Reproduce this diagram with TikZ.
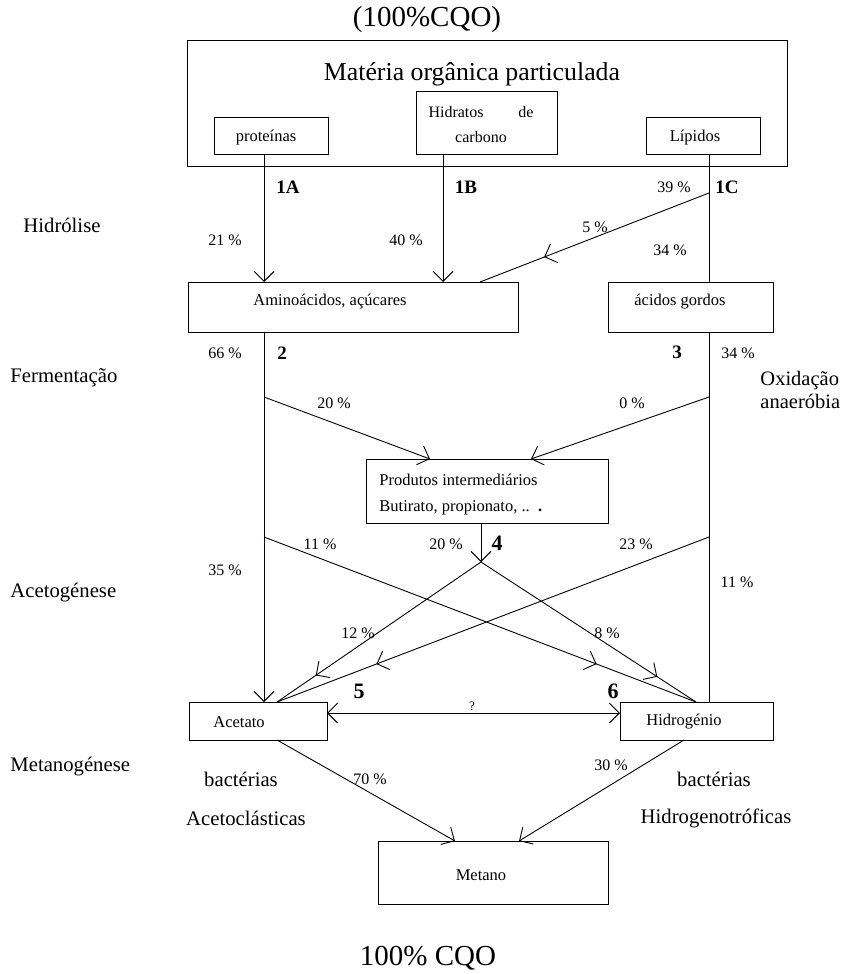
\documentclass[tikz,border=0pt]{standalone}
\usepackage{fontspec}
\setmainfont{Liberation Serif}
\usetikzlibrary{arrows.meta,decorations.markings,calc}
\newcommand{\fs}[1]{\fontsize{#1}{#1}\selectfont}
\begin{document}
\begin{tikzpicture}[x=1pt,y=-1pt,line width=0.9pt,
  box/.style={draw,rectangle,inner sep=0pt,outer sep=0pt},
  txt/.style={inner sep=0pt,font=\fs{16.5}},
  pct/.style={inner sep=0pt,font=\fs{16}},
  num/.style={inner sep=0pt,font=\fs{19}\bfseries},
  stage/.style={inner sep=0pt,font=\fs{20.7}},
  big/.style={inner sep=0pt,font=\fs{29}},
  tipa/.tip={Straight Barb[length=10pt,width=20pt]},
  ar/.style={-tipa},
  midar/.style={postaction={decorate},decoration={markings,mark=at position #1 with {\arrow{tipa}}}}
]
\useasboundingbox (0,0) rectangle (843,974);

% boxes
\node[box,minimum width=600pt,minimum height=126pt] (mop) at (487,103) {};
\node[box,minimum width=114pt,minimum height=37pt] (prot) at (271,135.5) {};
\node[box,minimum width=141pt,minimum height=63pt] (hid) at (486.5,122.5) {};
\node[box,minimum width=114pt,minimum height=37pt] (lip) at (703,135.5) {};
\node[box,minimum width=330pt,minimum height=50pt] (ami) at (353,307) {};
\node[box,minimum width=165pt,minimum height=50pt] (acg) at (690.5,307) {};
\node[box,minimum width=242pt,minimum height=64pt] (pro) at (487,491) {};
\node[box,minimum width=138pt,minimum height=38pt] (ace) at (258,721) {};
\node[box,minimum width=153pt,minimum height=38pt] (hyd) at (696.5,721) {};
\node[box,minimum width=230pt,minimum height=63pt] (met) at (493,872.5) {};

% box texts
\node[big] (t0) at (427,20) {(100\%CQO)};
\node[inner sep=0pt,font=\fs{25.8}] (mopT) at (472,74) {Matéria orgânica particulada};
\node[txt] (protT) at (266,138) {proteínas};
\node[txt,align=center,font=\fontsize{16}{25}\selectfont] (hidT) at (481,124.5) {\makebox[105pt]{Hidratos\hfill de}\\carbono};
\node[txt] (lipT) at (695,138) {Lípidos};
\node[txt] (amiT) at (330,302) {Aminoácidos, açúcares};
\node[txt] (acgT) at (680,302) {ácidos gordos};
\node[txt,anchor=west,align=left,font=\fontsize{16.5}{26}\selectfont] (proT) at (379,495) {Produtos intermediários\\Butirato, propionato, ..~~\textbf{.}};
\node[txt] (aceT) at (239,722) {Acetato};
\node[txt] (hydT) at (684,722) {Hidrogénio};
\node[txt] (metT) at (481,875) {Metano};
\node[big] (tEnd) at (428,958) {100\% CQO};

% stage labels
\node[stage,anchor=west] (s1) at (23,225) {Hidrólise};
\node[stage,anchor=west] (s2) at (10,378) {Fermentação};
\node[stage,anchor=west] (s3) at (10,593) {Acetogénese};
\node[stage,anchor=west] (s4) at (10,767) {Metanogénese};
\node[stage,anchor=west,align=left,font=\fontsize{20.5}{23.5}\selectfont] (s5) at (760,390) {Oxidação\\anaeróbia};
\node[stage] (b1) at (241,779) {bactérias};
\node[stage] (b2) at (246,818) {Acetoclásticas};
\node[stage] (b3) at (714,779) {bactérias};
\node[stage] (b4) at (716,818) {Hidrogenotróficas};

% numbers
\node[num] (n1A) at (288,187) {1A};
\node[num] (n1B) at (466,187) {1B};
\node[num] (n1C) at (727,187) {1C};
\node[num] (n2) at (282,353) {2};
\node[num] (n3) at (677,352) {3};
\node[num,font=\fs{22}\bfseries] (n4) at (497,543) {4};
\node[num,font=\fs{22}\bfseries] (n5) at (359,691) {5};
\node[num,font=\fs{22}\bfseries] (n6) at (613,691) {6};

% percentages
\node[pct] (p1) at (225,240) {21~\%};
\node[pct] (p2) at (406,240) {40~\%};
\node[pct] (p3) at (674,187) {39~\%};
\node[pct] (p4) at (595,227) {5~\%};
\node[pct] (p5) at (670,250) {34~\%};
\node[pct] (p6) at (225,353) {66~\%};
\node[pct] (p7) at (738,353) {34~\%};
\node[pct] (p8) at (334,403) {20~\%};
\node[pct] (p9) at (632,403) {0~\%};
\node[pct] (p10) at (320,544) {11~\%};
\node[pct] (p11) at (446,544) {20~\%};
\node[pct] (p12) at (636,544) {23~\%};
\node[pct] (p13) at (225,570) {35~\%};
\node[pct] (p14) at (737,582) {11~\%};
\node[pct] (p15) at (358,633) {12~\%};
\node[pct] (p16) at (607,633) {8~\%};
\node[pct] (p17) at (370,779) {70~\%};
\node[pct] (p18) at (611,765) {30~\%};
\node[inner sep=0pt,font=\fs{13}] (q) at (472,706) {?};

% x positions
\coordinate (xA) at (264,0);
\coordinate (xB) at (443,0);
\coordinate (xC) at (709,0);
\coordinate (xP) at (481,0);
\coordinate (c1) at (709,193);
\coordinate (c2) at (264,397);
\coordinate (c3) at (709,397);
\coordinate (c4) at (264,537);
\coordinate (c5) at (709,537);
\coordinate (j4) at (481,562);
\coordinate (x480) at (480,0);
\coordinate (x430) at (430,0);
\coordinate (x531) at (531,0);
\coordinate (x277) at (277,0);
\coordinate (x696) at (696,0);
\coordinate (x684) at (684,0);
\coordinate (x455) at (455,0);
\coordinate (x519) at (519,0);
\coordinate (y713) at (0,713);

% connectors
\draw[ar] (prot.south -| xA) -- (ami.north -| xA);
\draw[ar] (hid.south -| xB) -- (ami.north -| xB);
\draw (lip.south -| xC) -- (acg.north -| xC);
\draw[midar=0.72] (c1) -- (ami.north -| x480);
\draw[ar] (ami.south -| xA) -- (ace.north -| xA);
\draw (acg.south -| xC) -- (hyd.north -| xC);
\draw[ar] (c2) -- (pro.north -| x430);
\draw[ar] (c3) -- (pro.north -| x531);
\draw[ar] (pro.south -| xP) -- (j4);
\draw[midar=0.77] (c4) -- (hyd.north -| x696);
\draw[midar=0.77] (c5) -- (ace.north -| x277);
\draw[midar=0.81] (j4) -- (ace.north -| x277);
\draw[midar=0.82] (j4) -- (hyd.north -| x696);
\draw[tipa-tipa] (ace.east |- y713) -- (hyd.west |- y713);
\draw[ar] (ace.south -| x277) -- (met.north -| x455);
\draw[ar] (hyd.south -| x684) -- (met.north -| x519);
\end{tikzpicture}
\end{document}
